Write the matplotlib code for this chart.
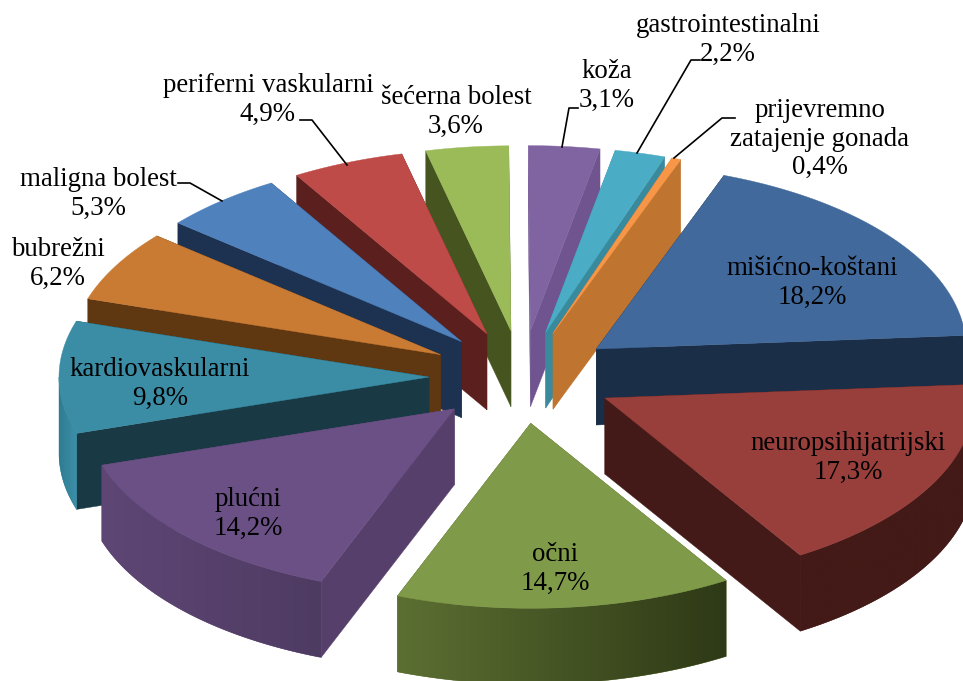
import numpy as np
import matplotlib
matplotlib.use("Agg")
import matplotlib.pyplot as plt
from matplotlib.colors import LinearSegmentedColormap
from matplotlib.patches import Polygon

plt.rcParams["font.family"] = ["Liberation Serif", "DejaVu Serif"]

# data, clockwise from the top of the pie
categories = ["mišićno-koštani", "neuropsihijatrijski", "očni", "plućni",
              "kardiovaskularni", "bubrežni", "maligna bolest", "periferni vaskularni",
              "šećerna bolest", "koža", "gastrointestinalni", "prijevremno\nzatajenje gonada"]
values = [18.2, 17.3, 14.7, 14.2, 9.8, 6.2, 5.3, 4.9, 3.6, 3.1, 2.2, 0.4]

top_colors = ["#41699B", "#983E3B", "#7F9A48", "#6A5085", "#3A8DA5", "#C97A33",
              "#4F81BD", "#BE4B48", "#9BBB59", "#8064A2", "#4BACC6", "#F79646"]
side_colors = ["#1A2E47", "#431A17", "#4A5A25", "#563F6B", "#193A44", "#5F3710",
               "#1C3250", "#5B201E", "#46551F", "#6F5490", "#3A8A9E", "#BF7430"]
# outer rim shading, left end and right end
rim_colors = {1: ("#431A17", "#431A17"), 2: ("#5C6F32", "#2E3916"),
              3: ("#5E4675", "#4E3B62"), 4: ("#2E7C92", "#3D90A8")}

label_pos = [(812, 283), (848, 458), (555, 569), (248, 514), (160, 384), (58, 264),
             (98, 194), (268, 100), (456, 112), (607, 86), (728, 40), (820, 139)]
# leader lines, from the slice to the label
leaders = {6: [(222, 201), (190, 183), (178, 183)],
           7: [(347, 165), (312, 120), (300, 120)],
           9: [(562, 147), (569, 108), (578, 108)],
           10: [(637, 153), (691, 60), (700, 60)],
           11: [(674, 158), (722, 118), (735, 118)]}

# pie geometry in pixels
CX, CY = 522, 377
RADIUS = 370
SQUASH = 0.5
EXPLODE = 93
DEPTH = 76
START = 20.2


def project(theta, rho, apex):
    t = np.radians(theta)
    return apex[0] + rho * np.sin(t), apex[1] - SQUASH * rho * np.cos(t)


fig = plt.figure(figsize=(9.63, 6.81), dpi=100)
ax = fig.add_axes([0, 0, 1, 1])

spans = np.array(values) / sum(values) * 360
starts = START + np.concatenate([[0], np.cumsum(spans)[:-1]])
mids = starts + spans / 2

# back slices first, so the front ones cover them
order = np.argsort(-np.cos(np.radians(mids)))
for n, i in enumerate(order):
    a0, a1, mid = starts[i], starts[i] + spans[i], mids[i]
    apex = (CX + EXPLODE * np.sin(np.radians(mid)),
            CY - SQUASH * EXPLODE * np.cos(np.radians(mid)))
    z = 10 + n * 5

    # two radial walls
    for ang in (a0, a1):
        ex, ey = project(ang, RADIUS, apex)
        ax.add_patch(Polygon([apex, (ex, ey), (ex, ey + DEPTH), (apex[0], apex[1] + DEPTH)],
                             fc=side_colors[i], ec=side_colors[i], lw=0.3, zorder=z))

    # outer rim, only the part facing the viewer, gradient clipped to its outline
    ang = np.linspace(max(a0, 90), min(a1, 270), 60)
    if ang[-1] > ang[0]:
        xs, ys = project(ang, RADIUS, apex)
        outline = list(zip(xs, ys)) + list(zip(xs[::-1], ys[::-1] + DEPTH))
        left, right = rim_colors.get(i, (side_colors[i], side_colors[i]))
        rim = Polygon(outline, fc=left, ec=left, lw=0.3, zorder=z + 1)
        ax.add_patch(rim)
        cmap = LinearSegmentedColormap.from_list("rim", [left, right])
        im = ax.imshow(np.linspace(0, 1, 256).reshape(1, -1), cmap=cmap, aspect="auto",
                       extent=(xs.min(), xs.max(), ys.max() + DEPTH, ys.min()), zorder=z + 1)
        im.set_clip_path(rim)

    # top face
    ang = np.linspace(a0, a1, 80)
    xs, ys = project(ang, RADIUS, apex)
    ax.add_patch(Polygon([apex] + list(zip(xs, ys)), fc=top_colors[i], ec=top_colors[i],
                         lw=0.3, zorder=z + 2))

for i, cat in enumerate(categories):
    ax.text(label_pos[i][0], label_pos[i][1], f"{cat}\n{values[i]:.1f}%".replace(".", ","),
            ha="center", va="center", fontsize=19.4, color="black", linespacing=1.17, zorder=100)

for pts in leaders.values():
    ax.plot(*zip(*pts), color="black", lw=1.2, zorder=99)

ax.set_xlim(0, 963)
ax.set_ylim(681, 0)
ax.axis("off")

fig.savefig("out.png", dpi=100)
